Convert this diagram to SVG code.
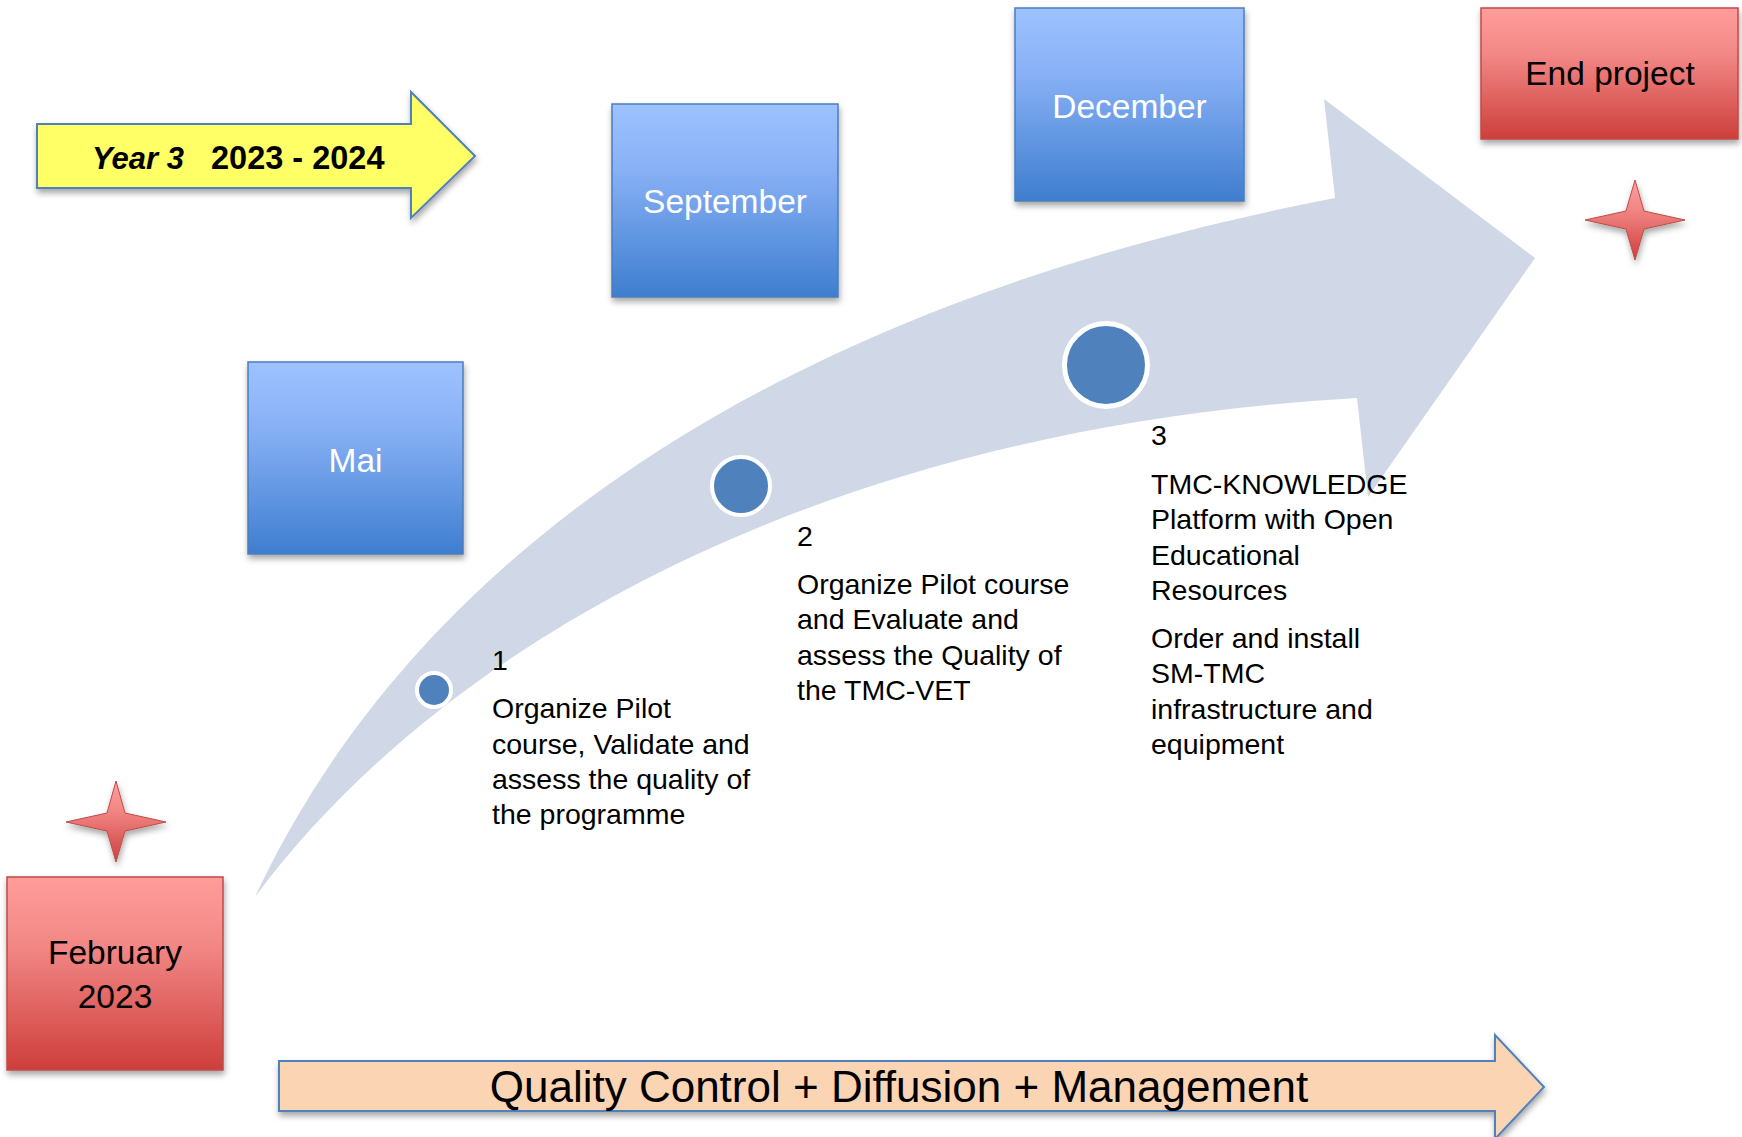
<svg xmlns="http://www.w3.org/2000/svg" width="1742" height="1137" viewBox="0 0 1742 1137">
<style>
text { font-family: "Liberation Sans", Arial, sans-serif; }
.lbl { font-size: 28.5px; fill: #000; }
.box-w { font-size: 33.5px; fill: #fff; text-anchor: middle; }
.box-b { font-size: 33.5px; fill: #000; text-anchor: middle; }
.bluebox { fill: url(#gBlue); stroke: #4A7EBB; stroke-width: 1.5; filter: url(#sh); }
.redbox { fill: url(#gRed); stroke: #BE4B48; stroke-width: 1.5; filter: url(#sh); }
.star { fill: url(#gRed); stroke: #BE4B48; stroke-width: 1; filter: url(#sh); }
.dot { fill: #4F81BD; stroke: #fff; }
</style>
<defs>
<linearGradient id="gBlue" x1="0" y1="0" x2="0" y2="1">
<stop offset="0" stop-color="#9EC2FF"/>
<stop offset="0.35" stop-color="#87B0F5"/>
<stop offset="1" stop-color="#3F7ECF"/>
</linearGradient>
<linearGradient id="gRed" x1="0" y1="0" x2="0" y2="1">
<stop offset="0" stop-color="#FF9D9B"/>
<stop offset="0.35" stop-color="#F28886"/>
<stop offset="1" stop-color="#CD3F3C"/>
</linearGradient>
<filter id="sh" x="-10%" y="-10%" width="125%" height="130%">
<feDropShadow dx="1" dy="4" stdDeviation="3" flood-color="#000" flood-opacity="0.35"/>
</filter>
</defs>

<g id="progress-arrow">
<path d="M255,897 C370,650 650,330 1335,198 L1324,99 L1535,258 L1368,497 L1357,398 C800,430 430,660 255,897 Z" fill="#D0D8E8"/>
</g>

<g id="connectors"></g>

<g id="year-arrow">
<path d="M37,124 L411,124 L411,92 L475,156 L411,218 L411,188 L37,188 Z" fill="#FFFF66" stroke="#4F81BD" stroke-width="2" filter="url(#sh)"/>
<text x="92" y="169" font-size="31" font-weight="bold" font-style="italic">Year 3</text>
<text x="211" y="169" font-size="32.5" font-weight="bold">2023 - 2024</text>
</g>

<g id="february">
<rect class="redbox" x="7" y="877" width="216" height="193"/>
<text class="box-b" x="115" y="964">February</text>
<text class="box-b" x="115" y="1008">2023</text>
</g>

<g id="star-start">
<path class="star" d="M116,781 L125,813 L166,822 L125,831 L116,862 L107,831 L66,822 L107,813 Z"/>
</g>

<g id="mai">
<rect class="bluebox" x="248" y="362" width="215" height="192"/>
<text class="box-w" x="355.5" y="472">Mai</text>
</g>

<g id="september">
<rect class="bluebox" x="612" y="104" width="226" height="193"/>
<text class="box-w" x="725" y="213">September</text>
</g>

<g id="december">
<rect class="bluebox" x="1015" y="8" width="229" height="193"/>
<text class="box-w" x="1129.5" y="118">December</text>
</g>

<g id="end-project">
<rect class="redbox" x="1481" y="8" width="257" height="131"/>
<text class="box-b" x="1610" y="85">End project</text>
</g>

<g id="star-end">
<path class="star" d="M1635,180 L1644,211 L1685,220 L1644,229 L1635,260 L1626,229 L1585,220 L1626,211 Z"/>
</g>

<g id="step1">
<circle class="dot" cx="434" cy="690" r="17" stroke-width="4"/>
<text class="lbl" x="492" y="670">1</text>
<text class="lbl" x="492" y="718">Organize Pilot</text>
<text class="lbl" x="492" y="754">course, Validate and</text>
<text class="lbl" x="492" y="789">assess the quality of</text>
<text class="lbl" x="492" y="824">the programme</text>
</g>

<g id="step2">
<circle class="dot" cx="741" cy="486" r="29" stroke-width="4"/>
<text class="lbl" x="797" y="546">2</text>
<text class="lbl" x="797" y="594">Organize Pilot course</text>
<text class="lbl" x="797" y="629">and Evaluate and</text>
<text class="lbl" x="797" y="665">assess the Quality of</text>
<text class="lbl" x="797" y="700">the TMC-VET</text>
</g>

<g id="step3">
<circle class="dot" cx="1106" cy="365" r="41.5" stroke-width="5"/>
<text class="lbl" x="1151" y="445">3</text>
<text class="lbl" x="1151" y="494">TMC-KNOWLEDGE</text>
<text class="lbl" x="1151" y="529">Platform with Open</text>
<text class="lbl" x="1151" y="565">Educational</text>
<text class="lbl" x="1151" y="600">Resources</text>
<text class="lbl" x="1151" y="648">Order and install</text>
<text class="lbl" x="1151" y="683">SM-TMC</text>
<text class="lbl" x="1151" y="719">infrastructure and</text>
<text class="lbl" x="1151" y="754">equipment</text>
</g>

<g id="quality-arrow">
<path d="M279,1061 L1495,1061 L1495,1035 L1544,1087 L1495,1139 L1495,1111 L279,1111 Z" fill="#FBD4B4" stroke="#4F81BD" stroke-width="2" filter="url(#sh)"/>
<text x="899" y="1102" font-size="44" text-anchor="middle">Quality Control + Diffusion + Management</text>
</g>
</svg>
